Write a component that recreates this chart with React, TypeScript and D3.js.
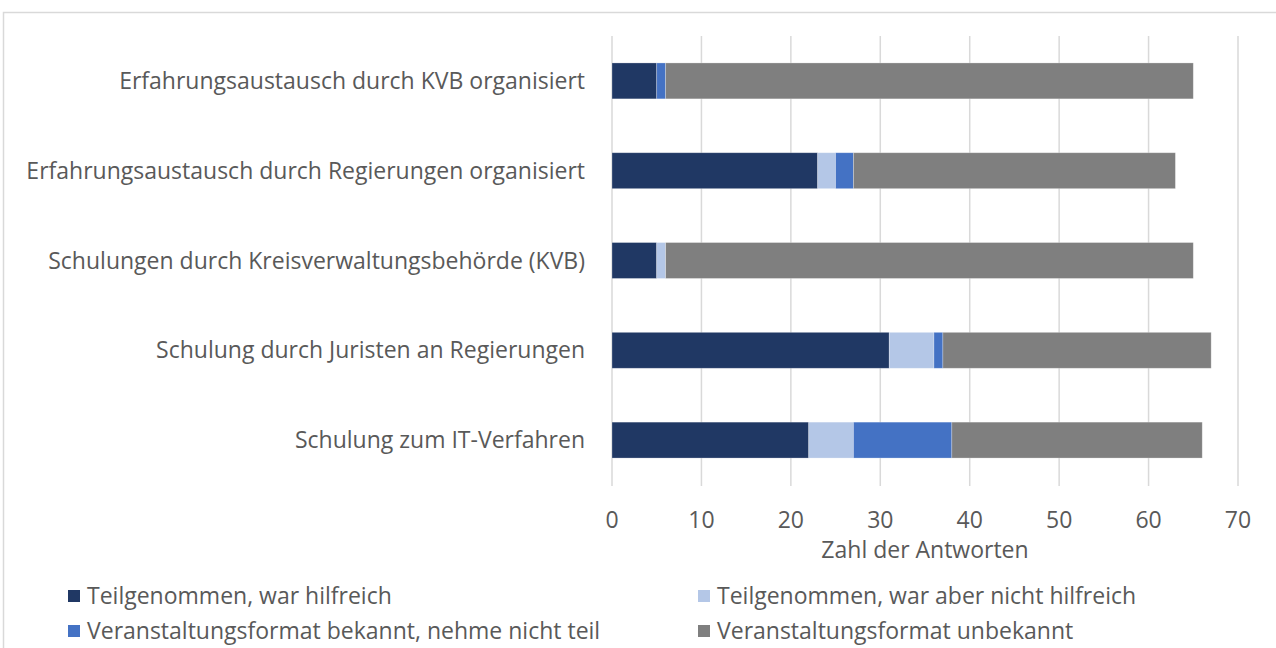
import React from "react";
import * as d3 from "d3";

const categories = [
  "Erfahrungsaustausch durch KVB organisiert",
  "Erfahrungsaustausch durch Regierungen organisiert",
  "Schulungen durch Kreisverwaltungsbehörde (KVB)",
  "Schulung durch Juristen an Regierungen",
  "Schulung zum IT-Verfahren",
];
const seriesNames = [
  "Teilgenommen, war hilfreich",
  "Teilgenommen, war aber nicht hilfreich",
  "Veranstaltungsformat bekannt, nehme nicht teil",
  "Veranstaltungsformat unbekannt",
];
const hilfreich = [5, 23, 5, 31, 22];
const nichtHilfreich = [0, 2, 1, 5, 5];
const bekannt = [1, 2, 0, 1, 11];
const unbekannt = [59, 36, 59, 30, 28];
const xTicks = [0, 10, 20, 30, 40, 50, 60, 70];
const colors = ["#203864", "#b4c7e7", "#4472c4", "#7f7f7f"];

const W = 1276;
const H = 648;
const FONT = "Open Sans, sans-serif";
const FS = 23;

export default function App() {
  const x = d3.scaleLinear().domain([0, 70]).range([612, 1238]);
  const y = d3.scaleBand<string>().domain(categories).range([36, 485]).paddingInner(0.6).paddingOuter(0.3);
  const rows = categories.map((c, i) => ({
    cat: c,
    vals: [hilfreich[i], nichtHilfreich[i], bekannt[i], unbekannt[i]],
  }));
  const stacked = d3.stack<any>().keys(["0", "1", "2", "3"]).value((d, k) => d.vals[+k])(rows);
  const legendPos = [
    { x: 68, y: 596 },
    { x: 698, y: 596 },
    { x: 68, y: 631 },
    { x: 698, y: 631 },
  ];
  return (
    <svg width={W} height={H} style={{ position: "absolute", left: 0, top: 0 }} fontFamily={FONT}>
      <rect x={0} y={0} width={W} height={H} fill="#fff" />
      <path d={`M3.5,${H} V12.5 H${W}`} fill="none" stroke="#d9d9d9" strokeWidth={1.5} />
      {xTicks.map((t) => (
        <line key={t} x1={x(t)} x2={x(t)} y1={36} y2={486} stroke="#d9d9d9" strokeWidth={1.5} />
      ))}
      {stacked.map((s, si) =>
        s.map((d, i) => (
          <rect
            key={`${si}-${i}`}
            x={x(d[0])}
            y={y(categories[i])!}
            width={Math.max(0, x(d[1]) - x(d[0]))}
            height={y.bandwidth()}
            fill={colors[si]}
            stroke="#ffffff"
            strokeOpacity={0.35}
            strokeWidth={0.75}
          />
        ))
      )}
      {categories.map((c) => (
        <text key={c} x={585} y={y(c)! + y.bandwidth() / 2} dy="0.35em" textAnchor="end" fontSize={FS} fill="#595959">
          {c}
        </text>
      ))}
      {xTicks.map((t) => (
        <text key={t} x={x(t)} y={520} dy="0.35em" textAnchor="middle" fontSize={FS} fill="#595959">
          {t}
        </text>
      ))}
      <text x={x(35)} y={550} dy="0.35em" textAnchor="middle" fontSize={FS} fill="#595959">
        Zahl der Antworten
      </text>
      {seriesNames.map((n, i) => (
        <g key={n}>
          <rect x={legendPos[i].x} y={legendPos[i].y - 6} width={12} height={12} fill={colors[i]} />
          <text x={legendPos[i].x + 19} y={legendPos[i].y} dy="0.35em" fontSize={FS} fill="#595959">
            {n}
          </text>
        </g>
      ))}
    </svg>
  );
}
